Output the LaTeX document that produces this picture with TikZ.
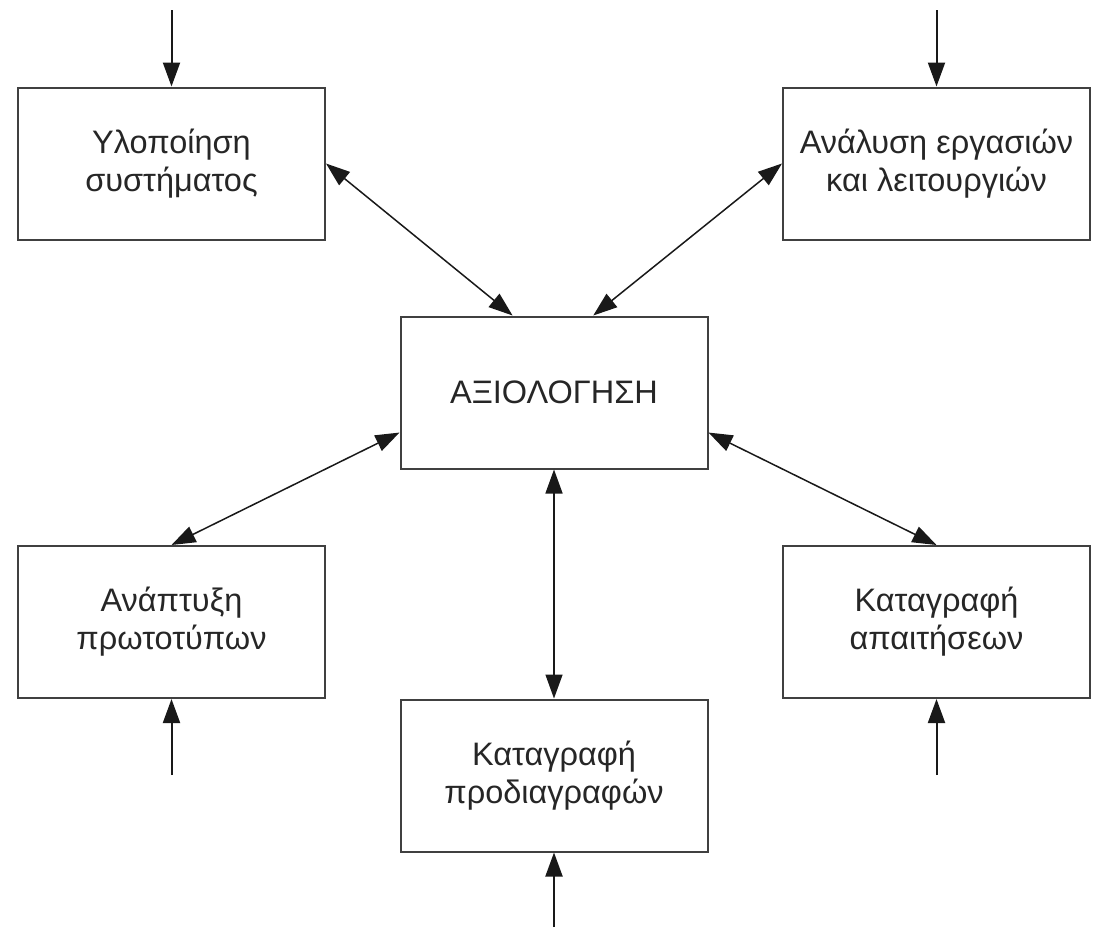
\documentclass[tikz,border=0pt]{standalone}
\usepackage{fontspec}
\setmainfont{Liberation Sans}
\usetikzlibrary{arrows.meta,calc}
\begin{document}
\begin{tikzpicture}[x=1pt,y=-1pt,
  box/.style={draw=black!75,line width=2pt,rectangle,inner sep=0pt,
    minimum width=307pt,minimum height=152pt,align=center,
    font=\fontsize{32.5}{38}\selectfont,text=black!85},
  conn/.style={line width=1.5pt,draw=black!90,{Triangle[length=24pt,width=17pt]}-{Triangle[length=24pt,width=17pt]}},
  inarrow/.style={line width=2pt,draw=black!90,-{Triangle[length=24pt,width=17pt]}}]
\useasboundingbox (0,0) rectangle (1093,927);
\node[box] (impl) at (171.5,163.5) {Υλοποίηση\\συστήματος};
\node[box] (anal) at (936.5,163.5) {Ανάλυση εργασιών\\και λειτουργιών};
\node[box] (eval) at (554,392.5) {ΑΞΙΟΛΟΓΗΣΗ};
\node[box] (proto) at (171.5,622) {Ανάπτυξη\\πρωτοτύπων};
\node[box] (req) at (936.5,622) {Καταγραφή\\απαιτήσεων};
\node[box] (spec) at (554,775.5) {Καταγραφή\\προδιαγραφών};
\coordinate (inImpl) at (171.5,10);
\coordinate (inAnal) at (936.5,10);
\coordinate (inProto) at (171.5,775);
\coordinate (inReq) at (936.5,775);
\coordinate (inSpec) at (554,927);
\draw[inarrow] (inImpl) -- (impl.north);
\draw[inarrow] (inAnal) -- (anal.north);
\draw[inarrow] (inProto) -- (proto.south);
\draw[inarrow] (inReq) -- (req.south);
\draw[inarrow] (inSpec) -- (spec.south);
\draw[conn] (impl.east) -- ($(eval.north west)!0.366!(eval.north east)$);
\draw[conn] (anal.west) -- ($(eval.north west)!0.627!(eval.north east)$);
\draw[conn] ($(eval.north west)!0.76!(eval.south west)$) -- (proto.north);
\draw[conn] ($(eval.north east)!0.76!(eval.south east)$) -- (req.north);
\draw[conn] (eval.south) -- (spec.north);
\end{tikzpicture}
\end{document}
